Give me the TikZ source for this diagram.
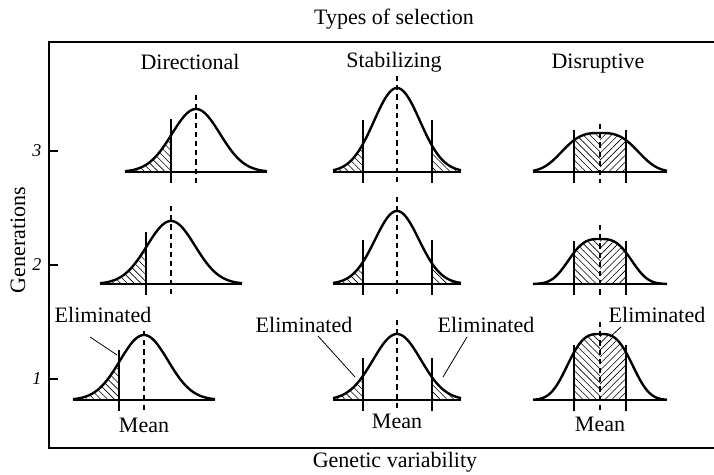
\documentclass[tikz,border=0pt]{standalone}
\usepackage{fontspec}
\setmainfont{Liberation Serif}
\usetikzlibrary{patterns.meta}

\tikzset{
  curve/.style={line width=1.2pt, line join=round},
  frame/.style={line width=0.8pt},
  meanline/.style={line width=0.55pt, dash pattern=on 2.6pt off 2pt},
  cutline/.style={line width=0.55pt},
  leader/.style={line width=0.4pt},
  hatchL/.style={pattern={Lines[angle=-45,distance=2.4pt,line width=0.3pt]}},
  hatchR/.style={pattern={Lines[angle=45,distance=2.4pt,line width=0.3pt]}},
  lbl/.style={font=\fontsize{11}{13}\selectfont, inner sep=0pt},
  ticklbl/.style={font=\fontsize{9}{11}\selectfont\itshape, inner sep=0pt}
}

% bell: mean, base, height, width, exponent, half range
\newcommand{\bell}[6]{%
  \pgfmathsetmacro{\bellLo}{#1-#6}\pgfmathsetmacro{\bellHi}{#1+#6}%
  \draw[curve] plot[domain=\bellLo:\bellHi, samples=90] (\x,{#2-#3*exp(-0.5*abs((\x-#1)/#4)^#5)});
  \draw[curve] (\bellLo,#2) -- (\bellHi,#2);}
% hatch: mean, base, height, width, exponent, from, to, style
\newcommand{\hatch}[8]{%
  \fill[#8] (#6,#2) -- plot[domain=#6:#7, samples=40] (\x,{#2-#3*exp(-0.5*abs((\x-#1)/#4)^#5)}) -- (#7,#2) -- cycle;}

\begin{document}
\begin{tikzpicture}[x=0.5pt, y=-0.5pt]
  \useasboundingbox (0,0) rectangle (714,475);

  \draw[frame] (714,42) -- (49,42) -- (49,448) -- (714,448);
  \foreach \g/\ty in {3/151,2/265,1/379} {
    \draw[frame] (49,\ty) -- (58,\ty);
    \node[ticklbl] (tick\g) at (37,\ty) {\g};
  }

  \node[lbl] (title) at (394,19) {Types of selection};
  \node[lbl] (genvar) at (395,462) {Genetic variability};
  \node[lbl, rotate=90] (gen) at (18,240) {Generations};
  \node[lbl] (dirhead) at (190,62) {Directional};
  \node[lbl] (stabhead) at (394,62) {Stabilizing};
  \node[lbl] (disrhead) at (598,64) {Disruptive};

  % directional
  \hatch{196}{172}{63}{24}{2}{125}{171}{hatchL}
  \hatch{171}{284}{63}{24}{2}{100}{146}{hatchL}
  \hatch{144}{400}{65}{24}{2}{73}{119}{hatchL}
  \bell{196}{172}{63}{24}{2}{71}
  \bell{171}{284}{63}{24}{2}{71}
  \bell{144}{400}{65}{24}{2}{71}
  \foreach \m/\c/\b/\dt/\ct in {196/171/172/95/119, 171/146/284/206/232, 144/119/400/331/350} {
    \draw[meanline] (\m,\dt) -- (\m,\b+11);
    \draw[cutline] (\c,\ct) -- (\c,\b+11);
  }

  % stabilizing
  \hatch{397}{172}{84}{23}{2}{333}{363}{hatchL}
  \hatch{397}{172}{84}{23}{2}{432}{461}{hatchL}
  \hatch{397}{284}{73}{22}{2}{333}{363}{hatchL}
  \hatch{397}{284}{73}{22}{2}{432}{461}{hatchL}
  \hatch{397}{400}{66}{24}{2}{333}{363}{hatchL}
  \hatch{397}{400}{66}{24}{2}{432}{461}{hatchL}
  \bell{397}{172}{84}{23}{2}{64}
  \bell{397}{284}{73}{22}{2}{64}
  \bell{397}{400}{66}{24}{2}{64}
  \foreach \b/\dt/\ct in {172/76/120, 284/197/240, 400/320/358} {
    \draw[meanline] (397,\dt) -- (397,\b+11);
    \draw[cutline] (363,\ct) -- (363,\b+11);
    \draw[cutline] (432,\ct) -- (432,\b+11);
  }

  % disruptive
  \hatch{600}{172}{39}{35}{3}{574}{600}{hatchL}
  \hatch{600}{172}{39}{35}{3}{600}{626}{hatchR}
  \hatch{600}{284}{45}{29}{3}{574}{600}{hatchL}
  \hatch{600}{284}{45}{29}{3}{600}{626}{hatchR}
  \hatch{600}{400}{66}{30}{3}{574}{600}{hatchL}
  \hatch{600}{400}{66}{30}{3}{600}{626}{hatchR}
  \bell{600}{172}{39}{35}{3}{67}
  \bell{600}{284}{45}{29}{3}{67}
  \bell{600}{400}{66}{30}{3}{67}
  \foreach \b/\dt/\ct in {172/124/130, 284/225/241, 400/322/345} {
    \draw[meanline] (600,\dt) -- (600,\b+11);
    \draw[cutline] (574,\ct) -- (574,\b+11);
    \draw[cutline] (626,\ct) -- (626,\b+11);
  }

  \node[lbl] (meandir) at (144,425) {Mean};
  \node[lbl] (meanstab) at (397,421) {Mean};
  \node[lbl] (meandisr) at (600,424) {Mean};

  \node[lbl] (elimdir) at (103,315) {Eliminated};
  \node[lbl] (elimstabL) at (304,325) {Eliminated};
  \node[lbl] (elimstabR) at (486,325) {Eliminated};
  \node[lbl] (elimdisr) at (657,315) {Eliminated};

  \coordinate (ldA) at (90,337);  \coordinate (ldAe) at (117,355);
  \coordinate (ldB) at (318,336); \coordinate (ldBe) at (355,377);
  \coordinate (ldC) at (467,337); \coordinate (ldCe) at (443,377);
  \coordinate (ldD) at (621,327); \coordinate (ldDe) at (610,337);
  \draw[leader] (ldA) -- (ldAe);
  \draw[leader] (ldB) -- (ldBe);
  \draw[leader] (ldC) -- (ldCe);
  \draw[leader] (ldD) -- (ldDe);
\end{tikzpicture}
\end{document}
